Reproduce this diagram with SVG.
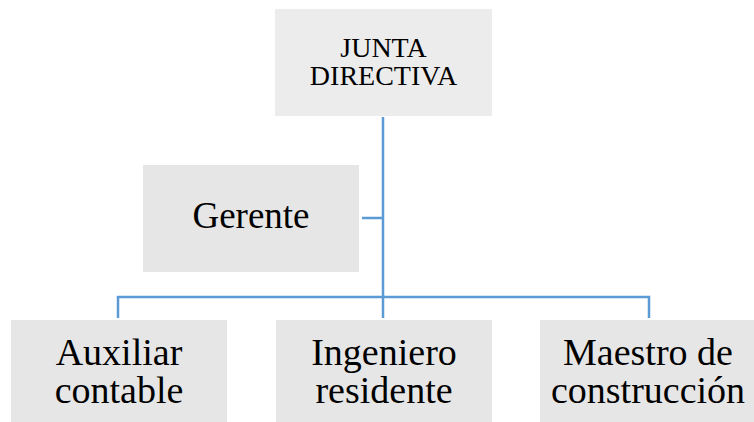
<svg xmlns="http://www.w3.org/2000/svg" width="754" height="422" viewBox="0 0 754 422">
<style>
.box{fill:#e6e6e6}
.top{fill:#ececec}
text{font-family:"Liberation Serif","Times New Roman",serif;fill:#000;text-anchor:middle}
.c{fill:none;stroke:#5b9bd5;stroke-width:2.5}
</style>
<rect width="754" height="422" fill="#fff"/>
<g id="connectors">
<path class="c" d="M383 117V318"/>
<path class="c" d="M362 218H383"/>
<path class="c" d="M118 318V297H649V318"/>
</g>
<g id="junta">
<rect class="top" x="275" y="9" width="217" height="107"/>
<text x="383.5" y="57" font-size="28">JUNTA</text>
<text x="383.5" y="85" font-size="28">DIRECTIVA</text>
</g>
<g id="gerente">
<rect class="box" x="143" y="165" width="216" height="107"/>
<text x="251" y="228" font-size="37">Gerente</text>
</g>
<g id="auxiliar">
<rect class="box" x="11" y="320" width="216" height="102"/>
<text x="119" y="365" font-size="38">Auxiliar</text>
<text x="119" y="403" font-size="38">contable</text>
</g>
<g id="ingeniero">
<rect class="box" x="276" y="320" width="216" height="102"/>
<text x="384" y="365" font-size="38">Ingeniero</text>
<text x="384" y="403" font-size="38">residente</text>
</g>
<g id="maestro">
<rect class="box" x="540" y="320" width="216" height="102"/>
<text x="648" y="365" font-size="38">Maestro de</text>
<text x="648" y="403" font-size="38">construcción</text>
</g>
</svg>
